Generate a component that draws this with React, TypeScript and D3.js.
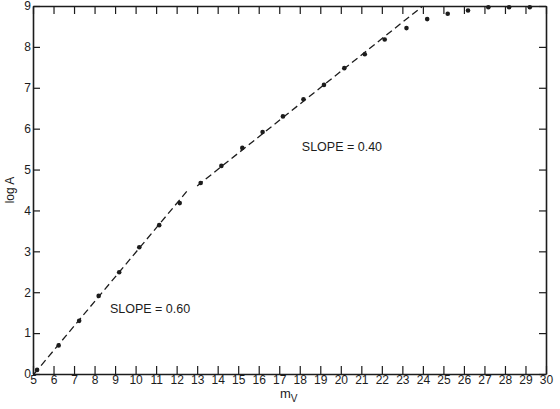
import React, { useEffect, useRef } from "react";
import * as d3 from "d3";

const mV = [5.2, 6.25, 7.25, 8.2, 9.2, 10.18, 11.15, 12.15, 13.17, 14.18, 15.2, 16.19, 17.18, 18.18, 19.18, 20.17, 21.17, 22.14, 23.2, 24.21, 25.21, 26.2, 27.19, 28.2, 29.21];
const logA = [0.1, 0.7, 1.3, 1.91, 2.49, 3.1, 3.64, 4.18, 4.67, 5.09, 5.53, 5.92, 6.3, 6.72, 7.07, 7.48, 7.82, 8.18, 8.46, 8.68, 8.81, 8.89, 8.97, 8.97, 8.97];

// fitted lines: [x, y] end points
const fitLow = [[5.05, 0], [12.5, 4.47]];
const fitHigh = [[13.0, 4.6], [23.95, 8.98]];

const xTicks = d3.range(5, 31);
const yTicks = d3.range(0, 10);

const App = () => {
  const ref = useRef(null);

  useEffect(() => {
    document.body.style.margin = "0";
    const svg = d3.select(ref.current);
    svg.selectAll("*").remove();

    const ink = "#1c1c1c";
    const font = "'Liberation Sans', Arial, sans-serif";

    const x = d3.scaleLinear().domain([5, 30]).range([33, 546]);
    const y = d3.scaleLinear().domain([0, 9]).range([374, 6]);

    const style = (g) => {
      g.select(".domain").attr("stroke", ink).attr("stroke-width", 1.6);
      g.selectAll(".tick line").attr("stroke", ink).attr("stroke-width", 1.2);
      g.selectAll(".tick text").attr("fill", ink).attr("font-family", font).attr("font-size", 12);
    };

    // bottom and left axes with labels, ticks pointing inward
    svg.append("g")
      .attr("transform", `translate(0,${y(0)})`)
      .call(d3.axisBottom(x).tickValues(xTicks).tickSizeInner(-8).tickSizeOuter(0).tickPadding(1).tickFormat(d3.format("d")))
      .call(style);

    svg.append("g")
      .attr("transform", `translate(${x(5)},0)`)
      .call(d3.axisLeft(y).tickValues(yTicks).tickSizeInner(-7).tickSizeOuter(0).tickPadding(2).tickFormat(d3.format("d")))
      .call(style);

    // top and right frame with ticks, no labels
    svg.append("g")
      .attr("transform", `translate(0,${y(9)})`)
      .call(d3.axisTop(x).tickValues(xTicks).tickSizeInner(-8).tickSizeOuter(0).tickFormat(() => ""))
      .call(style);

    svg.append("g")
      .attr("transform", `translate(${x(30)},0)`)
      .call(d3.axisRight(y).tickValues(yTicks).tickSizeInner(-7).tickSizeOuter(0).tickFormat(() => ""))
      .call(style);

    // dashed fits
    const line = d3.line().x((d) => x(d[0])).y((d) => y(d[1]));
    [fitLow, fitHigh].forEach((f) => {
      svg.append("path")
        .attr("d", line(f))
        .attr("fill", "none")
        .attr("stroke", ink)
        .attr("stroke-width", 1.3)
        .attr("stroke-dasharray", "7,4");
    });

    // data points
    svg.append("g")
      .selectAll("circle")
      .data(mV)
      .join("circle")
      .attr("cx", (d) => x(d))
      .attr("cy", (d, i) => y(logA[i]))
      .attr("r", 2.3)
      .attr("fill", ink);

    // annotations
    svg.append("text")
      .attr("x", x(18.1)).attr("y", 151)
      .attr("font-family", font).attr("font-size", 12.5).attr("fill", ink)
      .text("SLOPE = 0.40");
    svg.append("text")
      .attr("x", x(8.75)).attr("y", 313)
      .attr("font-family", font).attr("font-size", 12.5).attr("fill", ink)
      .text("SLOPE = 0.60");

    // axis titles
    svg.append("text")
      .attr("transform", `translate(14,${y(4.5)}) rotate(-90)`)
      .attr("text-anchor", "middle")
      .attr("font-family", font).attr("font-size", 12).attr("fill", ink)
      .text("log A");

    const xt = svg.append("text")
      .attr("x", 280).attr("y", 398)
      .attr("font-family", font).attr("font-size", 13).attr("fill", ink);
    xt.append("tspan").text("m");
    xt.append("tspan").attr("dy", 4).attr("font-size", 10).text("V");
  }, []);

  return <svg ref={ref} width={560} height={409} style={{ display: "block", background: "#fff" }}></svg>;
};

export default App;
